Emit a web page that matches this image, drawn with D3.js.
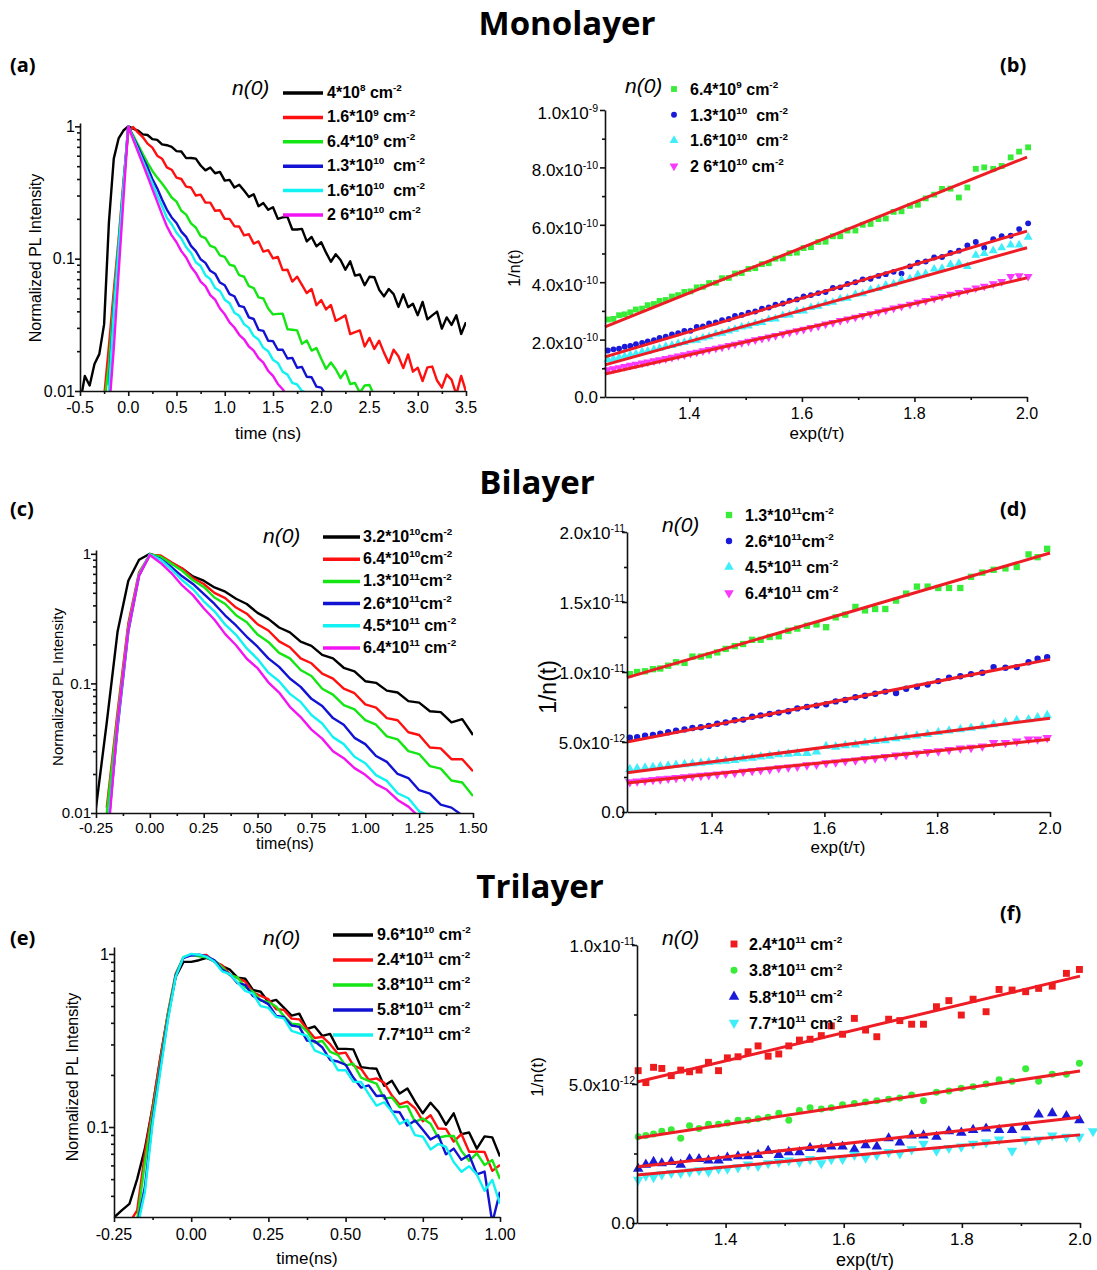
<!DOCTYPE html>
<html>
<head>
<meta charset="utf-8">
<script src="https://cdn.jsdelivr.net/npm/d3@7"></script>
<style>
  body { margin: 0; background: #fff; }
  svg text { font-family: "Liberation Sans", Arial, sans-serif; white-space: pre; }
</style>
</head>
<body>
<div id="chart"></div>
<script>
// ===================== data ===================== //

// (a) monolayer PL decays
var timeA = [-0.5,-0.45,-0.4,-0.35,-0.3,-0.25,-0.2,-0.15,-0.1,-0.05,0,0.05,0.1,0.15,0.2,0.25,0.3,0.35,0.4,0.45,0.5,0.55,0.6,0.65,0.7,0.75,0.8,0.85,0.9,0.95,1,1.05,1.1,1.15,1.2,1.25,1.3,1.35,1.4,1.45,1.5,1.55,1.6,1.65,1.7,1.75,1.8,1.85,1.9,1.95,2,2.05,2.1,2.15,2.2,2.25,2.3,2.35,2.4,2.45,2.5,2.55,2.6,2.65,2.7,2.75,2.8,2.85,2.9,2.95,3,3.05,3.1,3.15,3.2,3.25,3.3,3.35,3.4,3.45,3.5];
var monoBlack = [0.008,0.013,0.011,0.016,0.019,0.032,0.19,0.57,0.81,0.93,1.0,
  0.96,0.93,0.87,0.86,0.80,0.79,0.73,0.72,0.70,0.65,
  0.646,0.575,0.577,0.57,0.506,0.465,0.488,0.442,0.453,0.389,
  0.394,0.345,0.362,0.327,0.293,0.307,0.249,0.263,0.234,0.245,
  0.20,0.205,0.207,0.166,0.166,0.168,0.135,0.146,0.124,0.133,
  0.111,0.0948,0.108,0.0977,0.0826,0.0955,0.0745,0.0759,0.063,0.073,
  0.0724,0.0583,0.0519,0.059,0.054,0.0432,0.0538,0.043,0.0457,0.0374,
  0.0471,0.0348,0.0373,0.0398,0.0296,0.036,0.0316,0.0373,0.027,0.0331];
var monoRed = [null,null,null,null,null,0.009,0.022,0.057,0.14,0.38,0.90,
  0.99,0.90,0.83,0.74,0.69,0.60,0.57,0.49,0.47,0.41,
  0.40,0.35,0.345,0.30,0.305,0.265,0.265,0.23,0.232,0.20,
  0.20,0.176,0.175,0.150,0.153,0.130,0.135,0.113,0.116,0.1005,
  0.103,0.082,0.0824,0.0671,0.0731,0.0634,0.055,0.059,0.0445,0.0486,
  0.0413,0.0447,0.0339,0.0355,0.0373,0.0269,0.0279,0.0287,0.0217,0.0252,
  0.0208,0.024,0.0195,0.0163,0.0205,0.0183,0.0149,0.0189,0.014,0.015,
  0.0119,0.0151,0.0153,0.012,0.0106,0.0133,0.0122,0.0094,0.013,0.0099];
var monoGreen = [null,null,null,null,null,0.008,0.016,0.048,0.13,0.37,1.0,
  0.86,0.73,0.62,0.53,0.46,0.41,0.37,0.33,0.29,0.27,
  0.23,0.215,0.185,0.172,0.148,0.143,0.125,0.121,0.106,0.103,
  0.090,0.088,0.075,0.073,0.062,0.060,0.051,0.050,0.042,0.0379,
  0.0383,0.0384,0.0293,0.029,0.0287,0.0227,0.0241,0.0202,0.0211,0.0175,
  0.0147,0.0164,0.0146,0.0125,0.0142,0.0113,0.0115,0.0097,0.011,0.0111,
  0.0092];
var monoBlue = [null,null,null,null,null,null,0.011,0.042,0.12,0.35,1.0,
  0.83,0.70,0.58,0.49,0.40,0.34,0.28,0.235,0.205,0.186,
  0.160,0.146,0.125,0.114,0.099,0.093,0.081,0.077,0.066,0.063,
  0.054,0.052,0.044,0.043,0.036,0.035,0.029,0.0285,0.0240,0.0238,
  0.0205,0.0205,0.0176,0.0178,0.0150,0.0152,0.0128,0.0127,0.0108,0.0106,
  0.0094];
var monoCyan = [null,null,null,null,null,null,0.010,0.040,0.12,0.35,1.0,
  0.82,0.67,0.55,0.45,0.37,0.30,0.25,0.204,0.182,0.157,
  0.142,0.122,0.111,0.094,0.088,0.075,0.070,0.060,0.057,0.049,
  0.046,0.039,0.037,0.032,0.0300,0.0260,0.0245,0.0212,0.0200,0.0172,
  0.0163,0.0140,0.0133,0.0115,0.0112,0.0100,0.0097];
var monoMagenta = [null,null,null,null,null,null,0.007,0.021,0.078,0.28,1.0,
  0.80,0.645,0.52,0.42,0.335,0.27,0.216,0.176,0.150,0.133,
  0.114,0.102,0.087,0.078,0.067,0.062,0.053,0.049,0.042,0.038,
  0.0330,0.0302,0.0266,0.0246,0.0217,0.0202,0.0177,0.0164,0.0142,0.0130,
  0.0113,0.0103,0.0092];
var monoLabels = [["4*10","8"," cm","-2"],["1.6*10","9"," cm","-2"],["6.4*10","9"," cm","-2"],
  ["1.3*10","10","  cm","-2"],["1.6*10","10","  cm","-2"],["2 6*10","10"," cm","-2"]];

// (b) monolayer 1/n(t), units of 1e-10
var xsB = [1.255,1.265,1.275,1.285,1.295,1.305,1.316,1.326,1.337,1.347,1.358,1.369,1.380,1.391,1.402,1.413,1.424,1.435,1.447,1.458,1.470,1.481,1.493,1.505,1.517,1.529,1.541,1.553,1.566,1.578,1.591,1.603,1.616,1.629,1.642,1.655,1.668,1.681,1.695,1.708,1.722,1.736,1.749,1.763,1.777,1.792,1.806,1.820,1.835,1.849,1.864,1.879,1.894,1.909,1.924,1.940,1.955,1.971,1.986,2.002];
var invGreenB = [2.70,2.72,2.85,2.88,2.95,3.05,3.08,3.20,3.24,3.35,3.38,3.50,3.55,3.66,3.68,3.82,3.84,3.97,3.98,4.14,4.15,4.30,4.32,4.46,4.49,4.63,4.66,4.82,4.83,5.01,5.03,5.19,5.22,5.40,5.41,5.60,5.60,5.80,5.80,6.00,6.03,6.20,6.22,6.45,6.47,6.66,6.70,6.92,7.05,7.25,7.26,6.95,7.30,7.95,8.00,7.95,8.05,8.35,8.55,8.70];
var invBlueB = [1.62,1.66,1.68,1.75,1.78,1.84,1.88,1.94,1.98,2.06,2.10,2.18,2.22,2.30,2.31,2.44,2.46,2.56,2.60,2.68,2.72,2.82,2.86,2.94,2.98,3.08,3.12,3.22,3.26,3.36,3.40,3.50,3.55,3.62,3.66,3.80,3.82,3.94,4.00,4.10,4.12,4.22,4.28,4.36,4.30,4.55,4.68,4.72,4.86,4.88,5.02,5.10,5.28,5.40,5.20,5.50,5.60,5.62,5.85,6.05];
var invCyanB = [1.30,1.33,1.38,1.42,1.47,1.50,1.57,1.60,1.66,1.70,1.76,1.80,1.86,1.90,1.96,1.98,2.06,2.10,2.20,2.22,2.30,2.36,2.44,2.48,2.56,2.60,2.70,2.72,2.84,2.86,2.98,3.00,3.12,3.16,3.26,3.30,3.42,3.44,3.58,3.60,3.74,3.78,3.90,3.94,4.08,4.12,4.26,4.30,4.46,4.48,4.62,4.66,4.55,4.94,5.00,5.10,5.20,5.30,5.30,5.57];
var invMagentaB = [0.95,0.98,1.02,1.06,1.10,1.14,1.18,1.22,1.26,1.30,1.34,1.38,1.43,1.47,1.52,1.56,1.61,1.65,1.70,1.74,1.79,1.84,1.89,1.94,1.99,2.04,2.09,2.14,2.20,2.25,2.31,2.36,2.42,2.47,2.54,2.59,2.66,2.72,2.78,2.84,2.90,2.97,3.03,3.10,3.16,3.23,3.30,3.36,3.44,3.50,3.58,3.64,3.72,3.80,3.86,3.94,4.02,4.20,4.22,4.20];
var fitB = [[2.44,8.36],[1.40,5.78],[1.12,5.20],[0.80,4.15]]; // values at x=1.25 and x=2.0
var labelsB = [["6.4*10","9"," cm","-2"],["1.3*10","10","  cm","-2"],["1.6*10","10","  cm","-2"],["2 6*10","10"," cm","-2"]];
var yTicksB = [0,2,4,6,8,10];
var yLabelsB = [["0.0"],["2.0x10","-10"],["4.0x10","-10"],["6.0x10","-10"],["8.0x10","-10"],["1.0x10","-9"]];

// (c) bilayer PL decays
var timeC = [-0.25,-0.2,-0.15,-0.1,-0.05,0,0.05,0.1,0.15,0.2,0.25,0.3,0.35,0.4,0.45,0.5,0.55,0.6,0.65,0.7,0.75,0.8,0.85,0.9,0.95,1,1.05,1.1,1.15,1.2,1.25,1.3,1.35,1.4,1.45,1.5];
var biBlack = [0.011,0.05,0.25,0.62,0.90,1.0,0.94,0.85,0.77,0.67,0.62,0.55,0.51,0.45,0.41,0.35,0.315,0.27,0.248,0.21,0.195,0.166,0.156,0.132,0.124,0.104,0.101,0.088,0.085,0.073,0.071,0.061,0.060,0.050,0.053,0.040];
var biRed = [null,0.011,0.06,0.29,0.72,0.98,0.97,0.86,0.77,0.65,0.585,0.50,0.455,0.385,0.345,0.286,0.256,0.211,0.19,0.156,0.143,0.119,0.109,0.091,0.084,0.069,0.065,0.054,0.052,0.042,0.040,0.032,0.0315,0.026,0.026,0.021];
var biGreen = [null,0.010,0.055,0.27,0.70,0.99,0.95,0.84,0.74,0.625,0.555,0.46,0.41,0.336,0.296,0.238,0.209,0.172,0.156,0.127,0.114,0.091,0.082,0.068,0.063,0.052,0.048,0.039,0.037,0.030,0.0285,0.023,0.022,0.0178,0.0172,0.0135];
var biBlue = [null,0.006,0.045,0.25,0.68,0.98,0.91,0.79,0.67,0.585,0.49,0.41,0.334,0.28,0.229,0.192,0.156,0.134,0.109,0.094,0.076,0.067,0.054,0.048,0.038,0.034,0.0275,0.0248,0.0200,0.0186,0.0150,0.0141,0.0116,0.0110,0.0096];
var biCyan = [null,0.006,0.048,0.26,0.69,0.99,0.90,0.76,0.625,0.535,0.43,0.36,0.284,0.237,0.186,0.154,0.121,0.104,0.083,0.072,0.057,0.049,0.0385,0.034,0.0272,0.0242,0.0196,0.0177,0.0142,0.0130,0.0103,0.0095];
var biMagenta = [null,0.005,0.05,0.26,0.68,0.98,0.85,0.71,0.57,0.48,0.38,0.31,0.24,0.197,0.155,0.131,0.102,0.085,0.066,0.055,0.044,0.0375,0.030,0.0265,0.0222,0.0197,0.0167,0.0151,0.0126,0.0112,0.0093];
var biLabels = [["3.2*10","10","cm","-2"],["6.4*10","10","cm","-2"],["1.3*10","11","cm","-2"],
  ["2.6*10","11","cm","-2"],["4.5*10","11"," cm","-2"],["6.4*10","11"," cm","-2"]];

// (d) bilayer 1/n(t), units of 1e-12
var xsD = [1.255,1.268,1.282,1.296,1.309,1.323,1.337,1.352,1.366,1.381,1.395,1.410,1.425,1.441,1.456,1.472,1.487,1.503,1.519,1.536,1.552,1.569,1.586,1.603,1.620,1.637,1.655,1.672,1.690,1.708,1.727,1.745,1.764,1.783,1.802,1.821,1.841,1.860,1.880,1.900,1.921,1.941,1.962,1.978,1.995];
var invGreenD = [9.85,10.0,10.05,10.2,10.25,10.45,10.7,10.65,11.1,11.1,11.2,11.4,11.65,11.85,12.0,12.3,12.3,12.5,12.55,12.95,13.1,13.3,13.4,13.2,13.9,14.1,14.65,14.4,14.5,14.5,15.1,15.6,16.1,16.1,16.0,16.0,16.0,16.8,17.1,17.3,17.4,17.5,18.4,18.2,18.8];
var invBlueD = [5.3,5.35,5.45,5.5,5.6,5.7,5.8,5.9,6.0,6.05,6.15,6.3,6.4,6.55,6.6,6.8,6.9,7.0,7.1,7.2,7.4,7.5,7.6,7.7,7.9,8.0,8.2,8.3,8.45,8.6,8.5,8.8,8.95,9.1,9.35,9.6,9.7,9.85,9.95,10.35,10.3,10.35,10.7,10.95,11.05];
var invCyanD = [3.05,3.1,3.15,3.2,3.25,3.3,3.35,3.4,3.45,3.5,3.55,3.6,3.65,3.7,3.8,3.85,3.95,4.0,4.1,4.15,4.2,4.2,4.3,4.7,4.65,4.75,4.8,4.95,5.05,5.1,5.25,5.35,5.45,5.55,5.7,5.8,5.9,6.0,6.1,6.25,6.4,6.55,6.6,6.75,6.9];
var invMagentaD = [2.15,2.2,2.25,2.3,2.35,2.4,2.45,2.5,2.55,2.6,2.65,2.7,2.75,2.8,2.9,2.95,3.0,3.05,3.15,3.2,3.25,3.35,3.4,3.5,3.55,3.65,3.7,3.8,3.85,3.95,4.05,4.1,4.2,4.3,4.35,4.45,4.55,4.6,4.7,4.95,4.95,5.05,5.2,5.2,5.3];
var fitD = [[9.6,18.5],[5.0,10.9],[2.8,6.7],[2.07,5.2]];
var labelsD = [["1.3*10","11","cm","-2"],["2.6*10","11","cm","-2"],["4.5*10","11"," cm","-2"],["6.4*10","11"," cm","-2"]];
var yTicksD = [0,5,10,15,20];
var yLabelsD = [["0.0"],["5.0x10","-12"],["1.0x10","-11"],["1.5x10","-11"],["2.0x10","-11"]];

// (e) trilayer PL decays
var timeE = [-0.25,-0.225,-0.2,-0.175,-0.15,-0.125,-0.1,-0.075,-0.05,-0.025,0,0.025,0.05,0.075,0.1,0.125,0.15,0.175,0.2,0.225,0.25,0.275,0.3,0.325,0.35,0.375,0.4,0.425,0.45,0.475,0.5,0.525,0.55,0.575,0.6,0.625,0.65,0.675,0.7,0.725,0.75,0.775,0.8,0.825,0.85,0.875,0.9,0.925,0.95,0.975,1];
var triBlack = [0.030,0.033,0.036,0.05,0.075,0.13,0.25,0.45,0.74,0.90,0.90,0.92,
  0.95,0.91,0.85,0.811,0.730,0.719,0.619,0.605,0.528,0.543,0.490,0.440,0.452,0.369,0.381,0.336,0.345,0.283,0.283,0.281,0.222,0.219,0.217,0.173,0.185,0.156,0.167,0.140,0.120,0.138,0.123,0.103,0.120,0.091,0.093,0.075,0.0883,0.0871,0.0675];
var triRed = [null,null,0.028,0.033,0.07,0.13,0.25,0.46,0.77,0.95,0.99,0.98,
  0.986,0.899,0.861,0.762,0.726,0.692,0.601,0.573,0.548,0.479,0.475,0.423,0.419,0.369,0.327,0.332,0.301,0.265,0.269,0.227,0.217,0.187,0.191,0.180,0.152,0.135,0.140,0.128,0.108,0.117,0.098,0.0976,0.0824,0.091,0.072,0.0721,0.0717,0.0558,0.0603];
var triGreen = [null,null,0.027,0.029,0.062,0.12,0.23,0.45,0.76,0.96,0.99,0.97,
  0.955,0.918,0.839,0.754,0.731,0.642,0.605,0.538,0.528,0.497,0.438,0.396,0.392,0.357,0.308,0.314,0.272,0.261,0.227,0.232,0.193,0.185,0.178,0.146,0.148,0.130,0.132,0.107,0.112,0.1045,0.0867,0.0887,0.0889,0.0728,0.0638,0.0705,0.0603,0.0644,0.0501];
var triBlue = [null,null,null,0.027,0.045,0.11,0.22,0.43,0.75,0.95,0.98,0.99,
  0.97,0.918,0.814,0.764,0.678,0.663,0.572,0.542,0.513,0.439,0.432,0.386,0.379,0.316,0.313,0.288,0.244,0.239,0.229,0.193,0.169,0.174,0.151,0.152,0.123,0.1216,0.102,0.109,0.0964,0.0848,0.0897,0.0695,0.075,0.0646,0.069,0.0533,0.0553,0.028,0.0423];
var triCyan = [null,null,null,0.026,0.042,0.105,0.21,0.42,0.74,0.96,1.0,0.99,
  0.962,0.901,0.794,0.764,0.684,0.612,0.589,0.500,0.488,0.433,0.424,0.359,0.348,0.336,0.277,0.265,0.254,0.213,0.213,0.183,0.182,0.155,0.133,0.139,0.123,0.104,0.110,0.0897,0.0879,0.0742,0.0798,0.0767,0.0628,0.0551,0.0593,0.0532,0.0428,0.0495,0.036];
var triLabels = [["9.6*10","10"," cm","-2"],["2.4*10","11"," cm","-2"],["3.8*10","11"," cm","-2"],
  ["5.8*10","11"," cm","-2"],["7.7*10","11"," cm","-2"]];

// (f) trilayer 1/n(t), units of 1e-12
var xsF = [1.252,1.265,1.278,1.292,1.308,1.324,1.339,1.355,1.371,1.388,1.403,1.421,1.438,1.455,1.472,1.49,1.507,1.525,1.543,1.562,1.579,1.598,1.618,1.637,1.656,1.676,1.695,1.715,1.735,1.757,1.778,1.799,1.819,1.841,1.863,1.885,1.908,1.93,1.953,1.977,1.999,2.022];
var invRedF = [5.48,5.05,5.6,5.56,5.3,5.5,5.44,5.5,5.78,5.48,5.94,5.98,6.16,6.37,6.0,6.08,6.37,6.58,6.61,6.74,7.09,6.79,7.36,6.94,6.7,7.33,7.28,7.15,7.15,7.78,8.0,7.48,8.05,7.6,8.4,8.38,8.32,8.44,8.52,8.98,9.12];
var invGreenF = [3.1,3.15,3.2,3.3,3.35,3.05,3.5,3.4,3.55,3.55,3.6,3.7,3.7,3.75,3.8,3.95,3.7,4.05,4.15,4.1,4.15,4.25,4.3,4.35,4.4,4.45,4.5,4.6,4.4,4.7,4.75,4.85,4.9,5.0,5.15,5.1,5.55,5.1,5.35,5.35,5.75];
var invBlueF = [1.95,2.1,2.2,2.15,2.2,2.1,2.3,2.3,2.25,2.25,2.35,2.4,2.4,2.45,2.6,2.45,2.55,2.55,2.7,2.65,2.75,2.75,2.65,2.8,2.75,3.05,2.9,3.15,3.15,3.1,3.3,3.25,3.35,3.4,3.35,3.35,3.45,3.9,3.95,3.85,3.7];
var invCyanF = [1.55,1.7,1.65,1.75,1.8,1.8,1.85,1.9,1.85,1.95,1.95,2.0,2.1,2.05,2.15,2.2,2.25,2.2,2.3,2.15,2.3,2.3,2.45,2.35,2.45,2.55,2.5,2.65,2.85,2.6,2.7,2.75,2.85,2.9,3.0,2.6,3.0,3.0,3.15,3.1,3.1,3.3];
var fitF = [[5.07,8.88],[3.06,5.47],[2.02,3.8],[1.73,3.17]];
var labelsF = [["2.4*10","11"," cm","-2"],["3.8*10","11"," cm","-2"],["5.8*10","11"," cm","-2"],["7.7*10","11"," cm","-2"]];
var yTicksF = [0,5,10];
var yLabelsF = [["0.0"],["5.0x10","-12"],["1.0x10","-11"]];

var decayColors = ["#000000", "#ff1010", "#14e614", "#1212d2", "#12f2f2", "#f214f2"];
var C_GREEN = "#3aec3a", C_BLUE = "#1a1ad8", C_CYAN = "#40eefa", C_MAG = "#fa3afa", C_RED = "#ee1c1c";
var FIT_RED = "#ee1c24";

// ===================== drawing ===================== //

var svg = d3.select("#chart").append("svg").attr("width", 1097).attr("height", 1270);

// text with two superscripts: base, sup, base2, sup2
function supText(t, parts, fs) {
  t.append("tspan").text(parts[0]);
  if (parts.length > 1) t.append("tspan").attr("font-size", fs * 0.62).attr("dy", -fs * 0.42).text(parts[1]);
  if (parts.length > 2) t.append("tspan").attr("font-size", fs).attr("dy", fs * 0.42).text(parts[2]);
  if (parts.length > 3) t.append("tspan").attr("font-size", fs * 0.62).attr("dy", -fs * 0.42).text(parts[3]);
}

function drawAxes(p, x, y) {
  var x0 = p.xRange[0], y0 = p.yRange[0];
  svg.append("g").attr("class", "ax").attr("transform", "translate(0," + y0 + ")")
    .call(d3.axisBottom(x).tickValues(p.xTicks).tickSize(5).tickSizeOuter(0).tickFormat(""));
  svg.append("g").attr("class", "ax").attr("transform", "translate(0," + y0 + ")")
    .call(d3.axisBottom(x).tickValues(p.xMinor).tickSize(3).tickSizeOuter(0).tickFormat(""))
    .select(".domain").remove();
  svg.append("g").attr("class", "ax").attr("transform", "translate(" + x0 + ",0)")
    .call(d3.axisLeft(y).tickValues(p.yTicks).tickSize(5).tickSizeOuter(0).tickFormat(""));
  svg.append("g").attr("class", "ax").attr("transform", "translate(" + x0 + ",0)")
    .call(d3.axisLeft(y).tickValues(p.yMinor).tickSize(3).tickSizeOuter(0).tickFormat(""))
    .select(".domain").remove();
  svg.selectAll(".ax path, .ax line").attr("stroke", "#111").attr("stroke-width", 1.6);

  // x tick labels
  svg.append("g").selectAll("text").data(p.xTicks).join("text")
    .attr("x", function (d) { return x(d); })
    .attr("y", y0 + p.xLabOff)
    .attr("text-anchor", "middle")
    .attr("font-size", p.xFs)
    .text(function (d) { return d.toFixed(p.xDec); });

  // axis titles
  svg.append("text").attr("x", p.xTitle[1]).attr("y", p.xTitle[2])
    .attr("text-anchor", "middle").attr("font-size", p.xTitle[3]).text(p.xTitle[0]);
  svg.append("text")
    .attr("transform", "translate(" + p.yTitle[1] + "," + p.yTitle[2] + ") rotate(-90)")
    .attr("text-anchor", "middle").attr("dy", "0.35em")
    .attr("font-size", p.yTitle[3]).text(p.yTitle[0]);
}

function decayPanel(p) {
  var x = d3.scaleLinear().domain(p.xDom).range(p.xRange);
  var y = d3.scaleLog().domain(p.yDom).range(p.yRange);
  svg.append("clipPath").attr("id", "clip-" + p.id).append("rect")
    .attr("x", p.xRange[0]).attr("y", p.yRange[1])
    .attr("width", p.xRange[1] - p.xRange[0]).attr("height", p.yRange[0] - p.yRange[1]);

  var line = d3.line()
    .defined(function (d) { return d[1] != null; })
    .x(function (d) { return x(d[0]); })
    .y(function (d) { return y(d[1]); });

  var plot = svg.append("g").attr("clip-path", "url(#clip-" + p.id + ")");
  p.series.forEach(function (s, i) {
    var pts = s.map(function (v, j) { return [p.time[j], v]; });
    plot.append("path").attr("d", line(pts))
      .attr("fill", "none").attr("stroke", decayColors[i])
      .attr("stroke-width", 2.4).attr("stroke-linejoin", "round");
  });

  drawAxes(p, x, y);

  // log y labels
  svg.append("g").selectAll("text").data(p.yTicks).join("text")
    .attr("x", p.xRange[0] - 5)
    .attr("y", function (d) { return y(d); })
    .attr("dy", "0.35em")
    .attr("text-anchor", "end")
    .attr("font-size", p.yFs)
    .text(function (d) { return d === 1 ? "1" : String(d); });

  // legend
  var lg = p.legend;
  svg.append("text").attr("x", lg.nx).attr("y", lg.ny)
    .attr("font-size", 21).attr("font-style", "italic").text("n(0)");
  lg.labels.forEach(function (lab, i) {
    var yy = lg.y0 + i * lg.dy;
    svg.append("line").attr("x1", lg.x1).attr("x2", lg.x2).attr("y1", yy).attr("y2", yy)
      .attr("stroke", decayColors[i]).attr("stroke-width", 3.5);
    var t = svg.append("text").attr("x", lg.tx).attr("y", yy + 5)
      .attr("font-size", 16).attr("font-weight", "bold");
    supText(t, lab, 16);
  });
}

function fitPanel(p) {
  var x = d3.scaleLinear().domain([1.25, 2.0]).range(p.xRange);
  var y = d3.scaleLinear().domain([0, p.yMax]).range(p.yRange);

  p.series.forEach(function (s) {
    var pts = s.vals.map(function (v, j) { return [s.xs[j], v]; });
    svg.append("g").selectAll("path").data(pts).join("path")
      .attr("transform", function (d) {
        return "translate(" + x(d[0]) + "," + y(d[1]) + ")" + (s.down ? " rotate(180)" : "");
      })
      .attr("d", d3.symbol().type(s.sym).size(s.sym === d3.symbolCircle ? p.ms * 0.8 : p.ms))
      .attr("fill", s.color);
  });
  p.fits.forEach(function (f) {
    svg.append("line")
      .attr("x1", x(1.25)).attr("y1", y(f[0]))
      .attr("x2", x(2.0)).attr("y2", y(f[1]))
      .attr("stroke", FIT_RED).attr("stroke-width", 3);
  });

  drawAxes(p, x, y);

  // y labels with exponent
  p.yTicks.forEach(function (v, i) {
    var t = svg.append("text")
      .attr("x", p.xRange[0] - p.yLabGap)
      .attr("y", y(v) + p.yFs * 0.35 + (i > 0 ? p.yLabShift : 0))
      .attr("text-anchor", "end")
      .attr("font-size", p.yFs);
    supText(t, p.yLabels[i], p.yFs);
  });

  var lg = p.legend;
  svg.append("text").attr("x", lg.nx).attr("y", lg.ny)
    .attr("font-size", 21).attr("font-style", "italic").text("n(0)");
  lg.labels.forEach(function (lab, i) {
    var s = p.series[i];
    var yy = lg.y0 + i * lg.dy;
    svg.append("path")
      .attr("transform", "translate(" + lg.mx + "," + yy + ")" + (s.down ? " rotate(180)" : ""))
      .attr("d", d3.symbol().type(s.sym).size(s.sym === d3.symbolCircle ? p.ms * 0.8 : p.ms))
      .attr("fill", s.color);
    var t = svg.append("text").attr("x", lg.tx).attr("y", yy + 6)
      .attr("font-size", 16).attr("font-weight", "bold");
    supText(t, lab, 16);
  });
}

function logMinor(lo, hi) {
  var out = [];
  [0.01, 0.1].forEach(function (dec) {
    for (var k = 2; k <= 9; k++) {
      var v = dec * k;
      if (v > lo && v < hi) out.push(v);
    }
  });
  return out;
}

// headings
[["Monolayer", 567, 35], ["Bilayer", 537, 494], ["Trilayer", 540, 898]].forEach(function (h) {
  svg.append("text").attr("x", h[1]).attr("y", h[2]).attr("text-anchor", "middle")
    .style("font-family", '"Open Sans", "DejaVu Sans", sans-serif')
    .attr("font-size", 33).attr("font-weight", "bold").text(h[0]);
});
[["(a)", 10, 72], ["(b)", 1000, 72], ["(c)", 10, 516], ["(d)", 1000, 516], ["(e)", 10, 945], ["(f)", 1000, 920]].forEach(function (h) {
  svg.append("text").attr("x", h[1]).attr("y", h[2])
    .style("font-family", '"Open Sans", "DejaVu Sans", sans-serif')
    .attr("font-size", 20).attr("font-weight", "bold").text(h[0]);
});

// (a)
decayPanel({
  id: "a", time: timeA,
  series: [monoBlack, monoRed, monoGreen, monoBlue, monoCyan, monoMagenta],
  xDom: [-0.5, 3.5], xRange: [80, 466], yDom: [0.01, 1.06], yRange: [391, 123],
  xTicks: [-0.5, 0, 0.5, 1, 1.5, 2, 2.5, 3, 3.5], xMinor: [-0.25, 0.25, 0.75, 1.25, 1.75, 2.25, 2.75, 3.25],
  xDec: 1, xFs: 16, xLabOff: 22,
  yTicks: [1, 0.1, 0.01], yMinor: logMinor(0.01, 1), yFs: 16,
  xTitle: ["time (ns)", 268, 439, 17], yTitle: ["Normalized PL Intensity", 35, 258, 16],
  legend: { labels: monoLabels, nx: 232, ny: 95, x1: 283, x2: 323, tx: 327, y0: 93, dy: 24.4 }
});

// (b)
fitPanel({
  xRange: [605, 1027], yRange: [397, 110], yMax: 10, ms: 34,
  series: [
    { xs: xsB, vals: invGreenB, sym: d3.symbolSquare, color: C_GREEN },
    { xs: xsB, vals: invBlueB, sym: d3.symbolCircle, color: C_BLUE },
    { xs: xsB, vals: invCyanB, sym: d3.symbolTriangle, color: C_CYAN },
    { xs: xsB, vals: invMagentaB, sym: d3.symbolTriangle, color: C_MAG, down: true }
  ],
  fits: fitB,
  xTicks: [1.4, 1.6, 1.8, 2.0], xMinor: [1.3, 1.5, 1.7, 1.9], xDec: 1, xFs: 16, xLabOff: 22,
  yTicks: yTicksB, yMinor: [1, 3, 5, 7, 9], yLabels: yLabelsB, yFs: 17, yLabGap: 7, yLabShift: 3,
  xTitle: ["exp(t/\u03C4)", 817, 439, 17], yTitle: ["1/n(t)", 514, 268, 16],
  legend: { labels: labelsB, nx: 625, ny: 93, mx: 674, tx: 690, y0: 89, dy: 25.7 }
});

// (c)
decayPanel({
  id: "c", time: timeC,
  series: [biBlack, biRed, biGreen, biBlue, biCyan, biMagenta],
  xDom: [-0.25, 1.5], xRange: [96, 473], yDom: [0.01, 1.07], yRange: [813, 550],
  xTicks: [-0.25, 0, 0.25, 0.5, 0.75, 1, 1.25, 1.5], xMinor: [-0.125, 0.125, 0.375, 0.625, 0.875, 1.125, 1.375],
  xDec: 2, xFs: 15, xLabOff: 20,
  yTicks: [1, 0.1, 0.01], yMinor: logMinor(0.01, 1), yFs: 15,
  xTitle: ["time(ns)", 285, 849, 16], yTitle: ["Normalized PL Intensity", 58, 687, 15],
  legend: { labels: biLabels, nx: 263, ny: 543, x1: 323, x2: 360, tx: 363, y0: 537, dy: 22.2 }
});

// (d)
fitPanel({
  xRange: [627, 1050], yRange: [812, 532], yMax: 20, ms: 40,
  series: [
    { xs: xsD, vals: invGreenD, sym: d3.symbolSquare, color: C_GREEN },
    { xs: xsD, vals: invBlueD, sym: d3.symbolCircle, color: C_BLUE },
    { xs: xsD, vals: invCyanD, sym: d3.symbolTriangle, color: C_CYAN },
    { xs: xsD, vals: invMagentaD, sym: d3.symbolTriangle, color: C_MAG, down: true }
  ],
  fits: fitD,
  xTicks: [1.4, 1.6, 1.8, 2.0], xMinor: [1.3, 1.5, 1.7, 1.9], xDec: 1, xFs: 17, xLabOff: 22,
  yTicks: yTicksD, yMinor: [2.5, 7.5, 12.5, 17.5], yLabels: yLabelsD, yFs: 17, yLabGap: 2, yLabShift: 1,
  xTitle: ["exp(t/\u03C4)", 838, 853, 17], yTitle: ["1/n(t)", 548, 687, 23],
  legend: { labels: labelsD, nx: 662, ny: 532, mx: 729, tx: 745, y0: 515, dy: 26 }
});

// (e)
decayPanel({
  id: "e", time: timeE,
  series: [triBlack, triRed, triGreen, triBlue, triCyan],
  xDom: [-0.25, 1.0], xRange: [114, 500], yDom: [0.0302, 1.097], yRange: [1217, 947],
  xTicks: [-0.25, 0, 0.25, 0.5, 0.75, 1], xMinor: [-0.125, 0.125, 0.375, 0.625, 0.875],
  xDec: 2, xFs: 16, xLabOff: 23,
  yTicks: [1, 0.1], yMinor: logMinor(0.0302, 1), yFs: 16,
  xTitle: ["time(ns)", 307, 1264, 17], yTitle: ["Normalized PL Intensity", 72, 1077, 16],
  legend: { labels: triLabels, nx: 263, ny: 945, x1: 333, x2: 373, tx: 377, y0: 935, dy: 25 }
});

// (f)
fitPanel({
  xRange: [637, 1080], yRange: [1223, 945], yMax: 10, ms: 48,
  series: [
    { xs: xsF, vals: invRedF, sym: d3.symbolSquare, color: C_RED },
    { xs: xsF, vals: invGreenF, sym: d3.symbolCircle, color: C_GREEN },
    { xs: xsF, vals: invBlueF, sym: d3.symbolTriangle, color: C_BLUE },
    { xs: xsF, vals: invCyanF, sym: d3.symbolTriangle, color: C_CYAN, down: true }
  ],
  fits: fitF,
  xTicks: [1.4, 1.6, 1.8, 2.0], xMinor: [1.3, 1.5, 1.7, 1.9], xDec: 1, xFs: 17, xLabOff: 22,
  yTicks: yTicksF, yMinor: [2.5, 7.5], yLabels: yLabelsF, yFs: 17, yLabGap: 2, yLabShift: 1,
  xTitle: ["exp(t/\u03C4)", 865, 1266, 18], yTitle: ["1/n(t)", 537, 1077, 17],
  legend: { labels: labelsF, nx: 662, ny: 945, mx: 734, tx: 749, y0: 944, dy: 26.3 }
});
</script>
</body>
</html>
